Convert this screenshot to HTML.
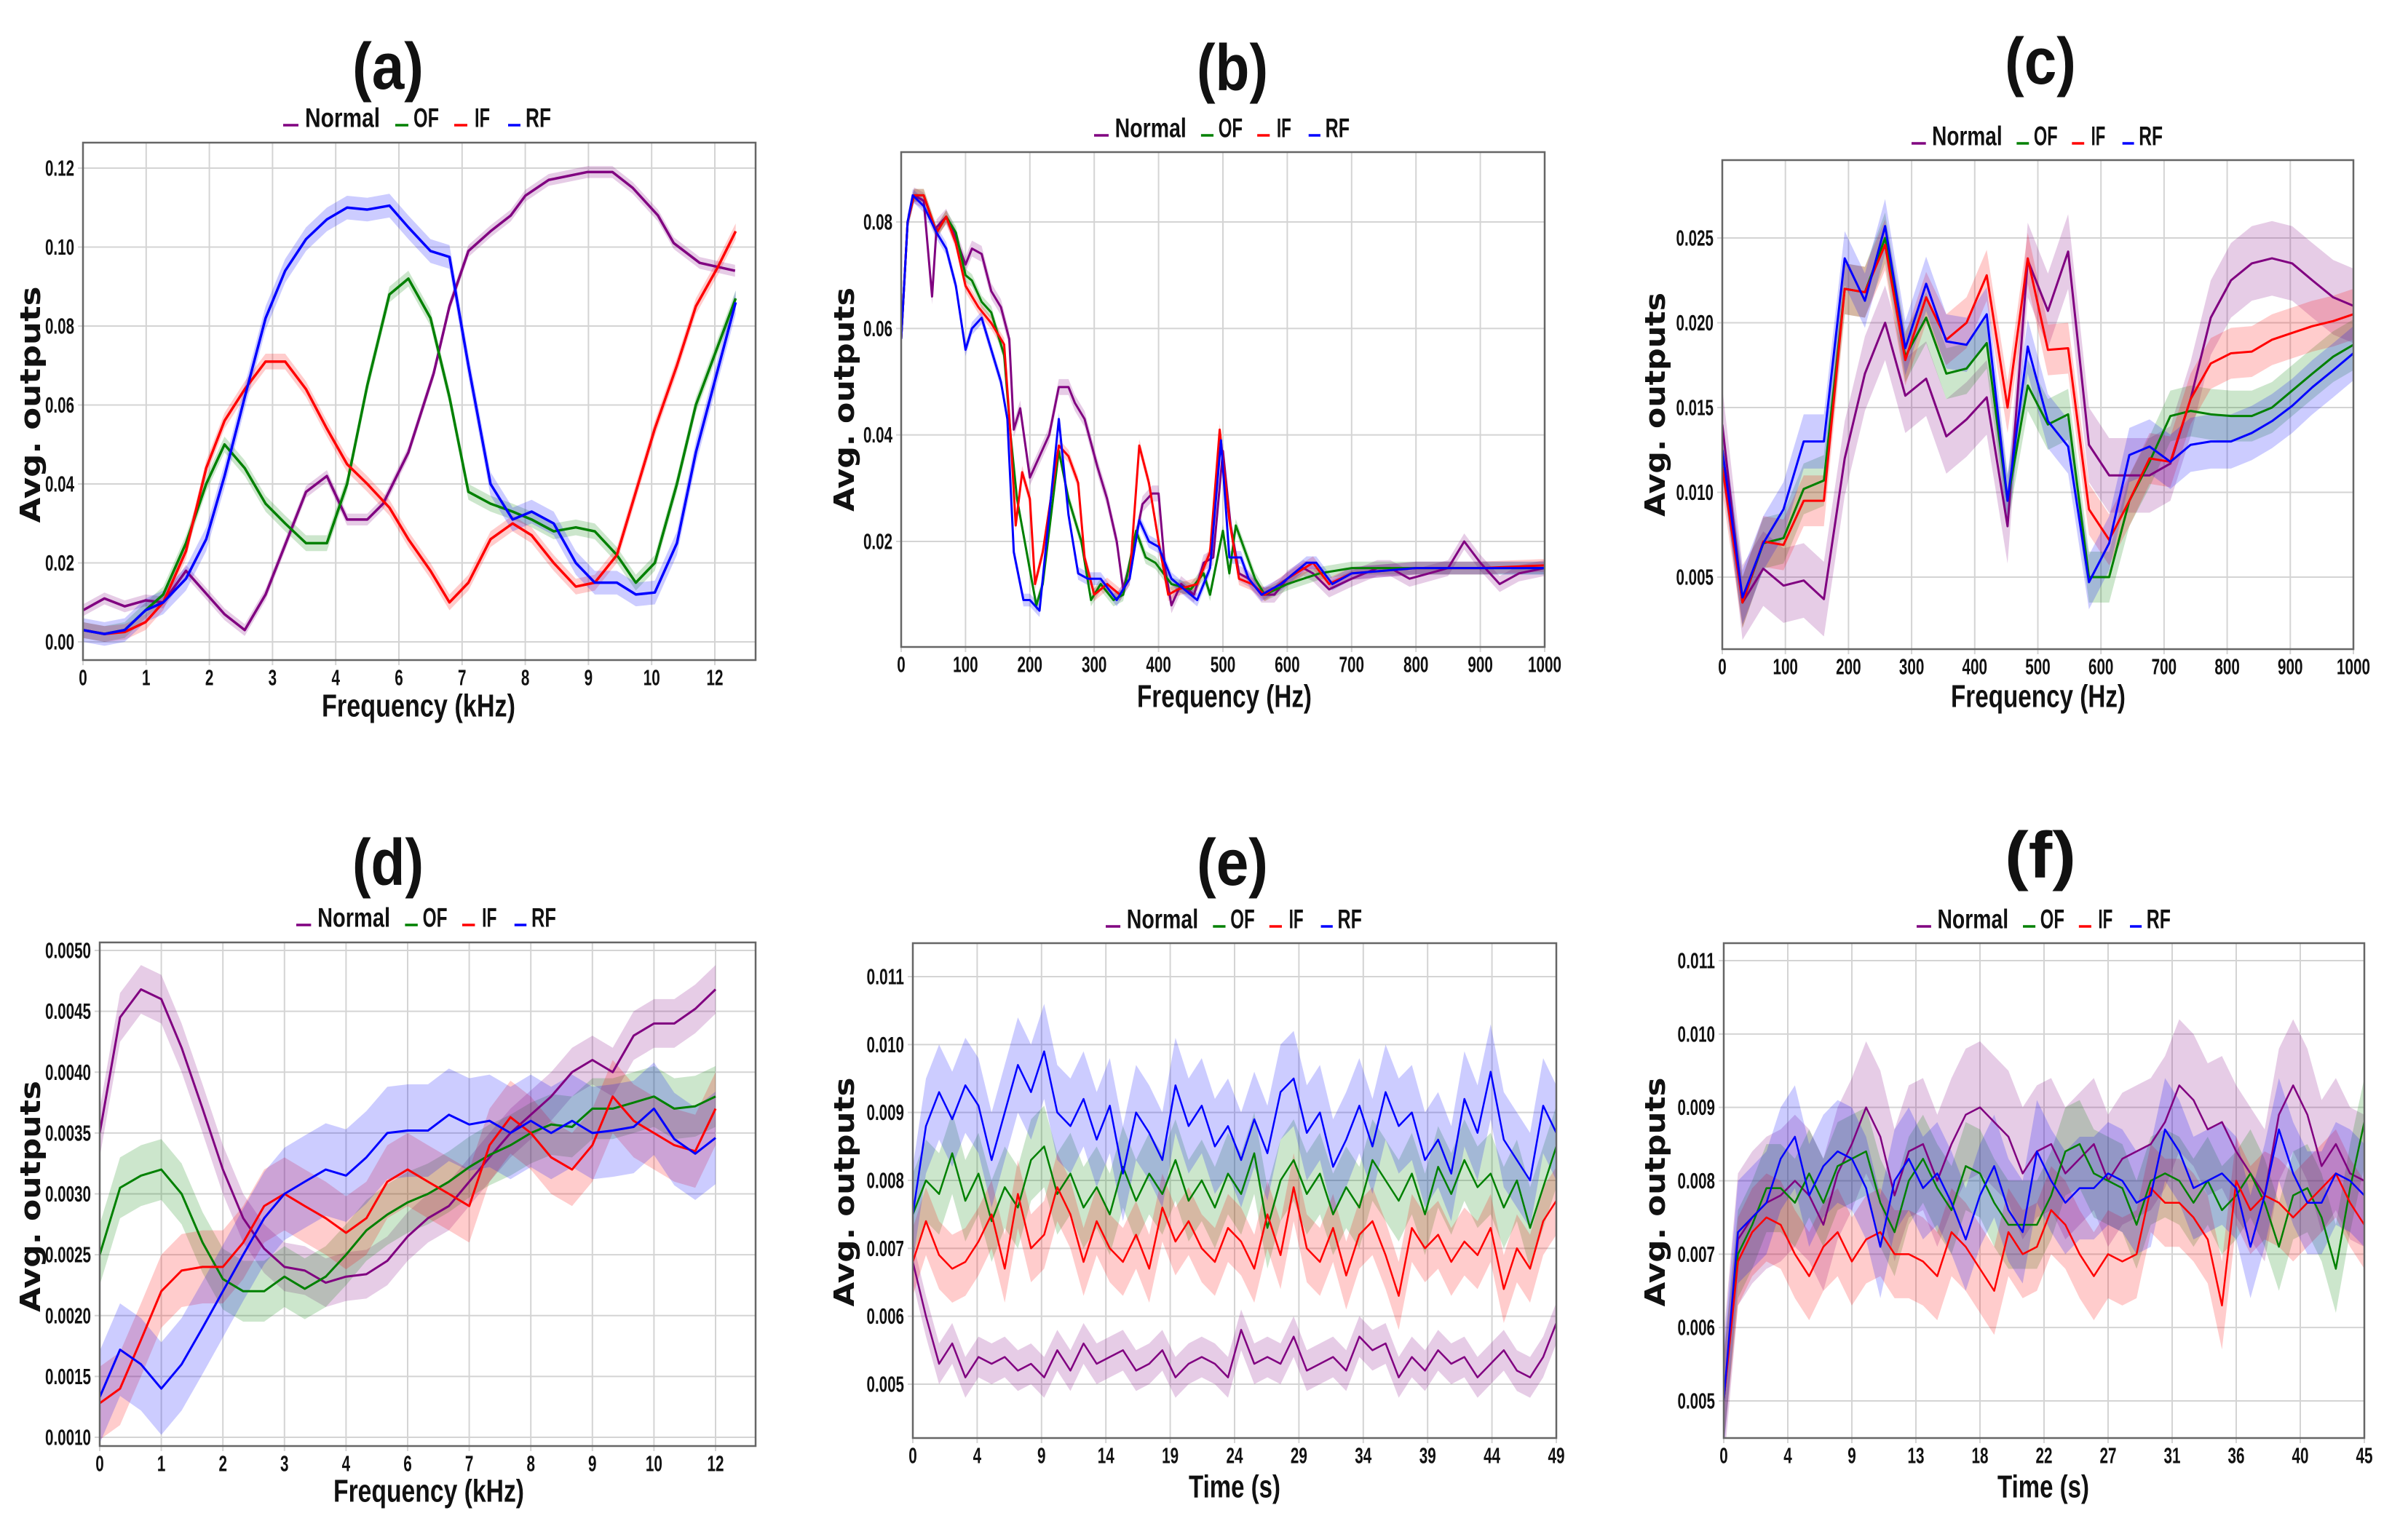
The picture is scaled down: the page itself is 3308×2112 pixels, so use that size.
<!DOCTYPE html>
<html><head><meta charset="utf-8"><style>
html,body{margin:0;padding:0;background:#fff;}
svg{display:block;}
text{font-family:"Liberation Sans Narrow","Liberation Sans",sans-serif;font-weight:bold;fill:#111;}
.yl{font-family:"DejaVu Sans","Liberation Sans",sans-serif;}
</style></head><body>
<svg id="fig" width="3308" height="2112" xmlns="http://www.w3.org/2000/svg"></svg>
<script>
// ---------- DATA ----------
const seriesNames = ['Normal','OF','IF','RF'];
const seriesColors = ['#800080','#008000','#ff0000','#0000ff'];

// (a) x in tick-index units; tick labels kHz
const aTickLabels = ['0','1','2','3','4','6','7','8','9','10','12'];
const aNormalX = [0,0.34,0.66,0.99,1.27,1.63,2.24,2.56,2.89,3.53,3.86,4.18,4.5,4.75,5.15,5.55,5.8,6.1,6.45,6.77,7.0,7.37,7.98,8.38,8.7,9.1,9.35,9.76,10.32];
const aNormalY = [0.008,0.011,0.009,0.0105,0.010,0.018,0.007,0.003,0.012,0.038,0.042,0.031,0.031,0.035,0.048,0.068,0.085,0.099,0.104,0.108,0.113,0.117,0.119,0.119,0.115,0.108,0.101,0.096,0.094];
const aOFX = [0,0.34,0.66,0.99,1.27,1.63,1.95,2.24,2.56,2.89,3.2,3.53,3.86,4.18,4.5,4.85,5.15,5.5,5.8,6.1,6.45,6.8,7.1,7.45,7.8,8.1,8.45,8.75,9.05,9.4,9.7,10.33];
const aOFY = [0.003,0.002,0.003,0.008,0.012,0.025,0.040,0.050,0.044,0.035,0.030,0.025,0.025,0.040,0.065,0.088,0.092,0.082,0.062,0.038,0.035,0.033,0.031,0.028,0.029,0.028,0.022,0.015,0.020,0.040,0.060,0.087];
const aIFX = [0,0.34,0.66,0.99,1.27,1.63,1.95,2.24,2.56,2.89,3.2,3.53,3.86,4.18,4.5,4.85,5.15,5.5,5.8,6.1,6.45,6.8,7.1,7.45,7.8,8.1,8.45,8.75,9.05,9.4,9.7,10.05,10.33];
const aIFY = [0.003,0.002,0.0025,0.005,0.010,0.023,0.044,0.056,0.064,0.071,0.071,0.064,0.054,0.045,0.040,0.034,0.026,0.018,0.010,0.015,0.026,0.030,0.027,0.020,0.014,0.015,0.022,0.038,0.054,0.070,0.085,0.095,0.104];
const aRFX = [0,0.34,0.66,0.99,1.27,1.63,1.95,2.24,2.56,2.89,3.2,3.53,3.86,4.18,4.5,4.85,5.15,5.5,5.8,6.1,6.45,6.8,7.1,7.45,7.8,8.1,8.45,8.75,9.05,9.4,9.7,10.33];
const aRFY = [0.003,0.002,0.003,0.008,0.010,0.016,0.026,0.042,0.062,0.082,0.094,0.102,0.107,0.110,0.1095,0.1105,0.105,0.099,0.0975,0.070,0.040,0.031,0.033,0.030,0.020,0.015,0.015,0.012,0.0125,0.025,0.048,0.086];
const aBands = [0.0015,0.002,0.002,0.003];

// (b) x in Hz
const bNormalX = [0,10,20,35,48,55,70,85,100,110,125,140,155,168,175,185,200,215,230,245,260,270,285,305,320,335,345,360,375,390,400,410,420,435,455,470,485,500,512,525,540,560,580,600,625,640,665,700,740,760,790,820,850,875,900,930,960,1000];
const bNormalY = [0.058,0.080,0.085,0.084,0.066,0.079,0.081,0.077,0.072,0.075,0.074,0.067,0.064,0.058,0.041,0.045,0.032,0.036,0.040,0.049,0.049,0.046,0.043,0.034,0.028,0.020,0.011,0.018,0.027,0.029,0.029,0.015,0.008,0.012,0.010,0.016,0.017,0.037,0.023,0.014,0.013,0.010,0.010,0.013,0.015,0.014,0.011,0.013,0.015,0.015,0.013,0.014,0.015,0.020,0.016,0.012,0.014,0.015];
const bOFX = [0,10,20,35,55,70,85,100,110,125,140,160,170,180,195,210,220,245,260,280,295,310,330,345,365,380,395,420,450,470,480,500,510,520,535,550,565,600,650,700,800,900,1000];
const bOFY = [0.058,0.080,0.085,0.085,0.078,0.081,0.078,0.070,0.069,0.065,0.063,0.055,0.040,0.028,0.018,0.008,0.012,0.037,0.028,0.020,0.009,0.012,0.009,0.010,0.022,0.017,0.016,0.012,0.011,0.014,0.010,0.022,0.014,0.023,0.018,0.013,0.010,0.012,0.014,0.015,0.015,0.015,0.015];
const bIFX = [0,10,20,35,55,70,85,100,120,140,160,170,178,188,200,208,220,245,260,275,285,300,320,340,355,370,385,400,415,430,460,480,495,510,525,545,565,600,640,665,700,800,900,1000];
const bIFY = [0.058,0.080,0.085,0.085,0.078,0.081,0.076,0.068,0.064,0.061,0.057,0.040,0.023,0.033,0.028,0.012,0.018,0.038,0.036,0.031,0.017,0.010,0.012,0.010,0.013,0.038,0.031,0.020,0.010,0.011,0.012,0.018,0.041,0.024,0.013,0.012,0.010,0.013,0.016,0.012,0.014,0.015,0.015,0.0155];
const bRFX = [0,10,18,35,55,70,85,100,110,125,140,155,165,175,190,200,215,230,245,260,275,290,310,335,355,370,385,400,420,440,460,480,497,510,528,540,560,590,630,645,670,700,800,900,1000];
const bRFY = [0.058,0.080,0.085,0.083,0.078,0.075,0.068,0.056,0.060,0.062,0.056,0.050,0.043,0.018,0.009,0.009,0.007,0.025,0.043,0.025,0.014,0.013,0.013,0.009,0.013,0.024,0.020,0.019,0.013,0.011,0.009,0.015,0.039,0.017,0.017,0.013,0.010,0.012,0.016,0.016,0.012,0.014,0.015,0.015,0.015];
const bBands = [0.0015,0.0012,0.0012,0.0012];

// (c) x in Hz
const cX = [0,32,65,97,129,161,194,226,258,290,323,355,387,419,452,484,516,548,581,613,645,677,710,742,774,806,839,871,903,935,968,1000];
const cNormal = [0.014,0.0035,0.0055,0.0045,0.0048,0.0037,0.012,0.017,0.020,0.0157,0.0167,0.0133,0.0143,0.0156,0.008,0.0237,0.0207,0.0242,0.0128,0.011,0.011,0.011,0.0117,0.0155,0.0203,0.0225,0.0235,0.0238,0.0235,0.0225,0.0215,0.021];
const cOF = [0.0125,0.0035,0.007,0.0073,0.0102,0.0107,0.022,0.0218,0.025,0.018,0.0203,0.017,0.0173,0.0188,0.0095,0.0163,0.014,0.0146,0.005,0.005,0.0095,0.0118,0.0145,0.0148,0.0146,0.0145,0.0145,0.0150,0.0160,0.0170,0.0180,0.0187];
const cIF = [0.0115,0.0035,0.0071,0.0069,0.0095,0.0095,0.022,0.0218,0.0246,0.0178,0.0215,0.019,0.020,0.0228,0.015,0.0238,0.0184,0.0185,0.009,0.0072,0.0095,0.012,0.0118,0.0155,0.0176,0.0182,0.0183,0.0190,0.0194,0.0198,0.0201,0.0205];
const cRF = [0.0125,0.0038,0.007,0.009,0.013,0.013,0.0238,0.0213,0.0257,0.0185,0.0223,0.0189,0.0187,0.0205,0.0095,0.0186,0.0142,0.0127,0.0047,0.007,0.0122,0.0127,0.0118,0.0128,0.013,0.013,0.0135,0.0142,0.0151,0.0162,0.0172,0.0182];
const cBands = [0.0022,0.0015,0.0015,0.0016];

// (d) x in tick-index units
const dTickLabels = ['0','1','2','3','4','6','7','8','9','10','12'];
const dX = [0,0.33,0.67,1,1.33,1.67,2,2.33,2.67,3,3.33,3.67,4,4.33,4.67,5,5.33,5.67,6,6.33,6.67,7,7.33,7.67,8,8.33,8.67,9,9.33,9.67,10];
const dNormal = [0.0035,0.00445,0.00468,0.0046,0.0042,0.0037,0.0032,0.0028,0.00255,0.0024,0.00237,0.00227,0.00232,0.00234,0.00245,0.00265,0.0028,0.0029,0.0031,0.0033,0.0035,0.00365,0.0038,0.0040,0.0041,0.0040,0.0043,0.0044,0.0044,0.00452,0.00468];
const dOF = [0.0025,0.00305,0.00315,0.0032,0.0030,0.0026,0.0023,0.0022,0.0022,0.00232,0.00222,0.00232,0.0025,0.0027,0.00283,0.00293,0.0030,0.0031,0.00322,0.00332,0.0034,0.0035,0.00357,0.00355,0.0037,0.0037,0.00375,0.0038,0.0037,0.00372,0.0038];
const dIF = [0.00128,0.0014,0.0018,0.0022,0.00237,0.0024,0.0024,0.0026,0.0029,0.0030,0.0029,0.0028,0.00268,0.0028,0.0031,0.0032,0.0031,0.0030,0.0029,0.0034,0.00363,0.0035,0.0033,0.0032,0.0034,0.0038,0.0036,0.0035,0.0034,0.00335,0.0037];
const dRF = [0.00133,0.00172,0.0016,0.0014,0.0016,0.0019,0.0022,0.0025,0.0028,0.0030,0.0031,0.0032,0.00315,0.0033,0.0035,0.00352,0.00352,0.00365,0.00357,0.0036,0.0035,0.0036,0.0035,0.0036,0.0035,0.00352,0.00355,0.0037,0.00345,0.00333,0.00346];
const dBands = [0.0002,0.00025,0.0003,0.00038];

// (e) time in s
const eTickLabels = ['0','4','9','14','19','24','29','34','39','44','49'];
const eT = [0,1,2,3,4,5,6,7,8,9,10,11,12,13,14,15,16,17,18,19,20,21,22,23,24,25,26,27,28,29,30,31,32,33,34,35,36,37,38,39,40,41,42,43,44,45,46,47,48,49];
const eNormal = [0.0068,0.0060,0.0053,0.0056,0.0051,0.0054,0.0053,0.0054,0.0052,0.0053,0.0051,0.0055,0.0052,0.0056,0.0053,0.0054,0.0055,0.0052,0.0053,0.0055,0.0051,0.0053,0.0054,0.0053,0.0051,0.0058,0.0053,0.0054,0.0053,0.0057,0.0052,0.0053,0.0054,0.0052,0.0057,0.0055,0.0056,0.0051,0.0054,0.0052,0.0055,0.0053,0.0054,0.0051,0.0053,0.0055,0.0052,0.0051,0.0054,0.0059];
const eOF = [0.0075,0.0080,0.0078,0.0084,0.0077,0.0081,0.0074,0.0079,0.0076,0.0083,0.0085,0.0078,0.0081,0.0076,0.0079,0.0075,0.0082,0.0077,0.0081,0.0078,0.0083,0.0077,0.0080,0.0076,0.0081,0.0078,0.0084,0.0073,0.0080,0.0083,0.0078,0.0081,0.0075,0.0079,0.0076,0.0083,0.0080,0.0077,0.0081,0.0075,0.0082,0.0078,0.0083,0.0079,0.0081,0.0076,0.0080,0.0073,0.0079,0.0085];
const eIF = [0.0068,0.0074,0.0069,0.0067,0.0068,0.0071,0.0075,0.0067,0.0078,0.0070,0.0072,0.0079,0.0075,0.0068,0.0074,0.0070,0.0068,0.0072,0.0067,0.0076,0.0071,0.0074,0.0070,0.0068,0.0073,0.0071,0.0067,0.0075,0.0069,0.0079,0.0070,0.0068,0.0073,0.0066,0.0072,0.0074,0.0069,0.0063,0.0073,0.0070,0.0072,0.0068,0.0071,0.0069,0.0073,0.0064,0.0070,0.0067,0.0074,0.0077];
const eRF = [0.0075,0.0088,0.0093,0.0089,0.0094,0.0091,0.0083,0.0090,0.0097,0.0093,0.0099,0.0090,0.0088,0.0092,0.0086,0.0091,0.0081,0.0090,0.0087,0.0083,0.0094,0.0088,0.0091,0.0085,0.0088,0.0083,0.0089,0.0084,0.0093,0.0095,0.0087,0.0090,0.0082,0.0086,0.0091,0.0085,0.0093,0.0088,0.0090,0.0083,0.0086,0.0081,0.0092,0.0087,0.0096,0.0086,0.0083,0.0080,0.0091,0.0087];
const eBands = [0.0003,0.0006,0.0005,0.0007];

// (f) time in s
const fTickLabels = ['0','4','9','13','18','22','27','31','36','40','45'];
const fT = [0,1,2,3,4,5,6,7,8,9,10,11,12,13,14,15,16,17,18,19,20,21,22,23,24,25,26,27,28,29,30,31,32,33,34,35,36,37,38,39,40,41,42,43,44,45];
const fNormal = [0.0050,0.0072,0.0075,0.0077,0.0078,0.0080,0.0078,0.0074,0.0081,0.0085,0.0090,0.0086,0.0078,0.0084,0.0085,0.0080,0.0085,0.0089,0.0090,0.0088,0.0086,0.0081,0.0084,0.0085,0.0081,0.0083,0.0085,0.0080,0.0083,0.0084,0.0085,0.0088,0.0093,0.0091,0.0087,0.0088,0.0084,0.0081,0.0078,0.0089,0.0093,0.0089,0.0082,0.0085,0.0081,0.0080];
const fOF = [0.0050,0.0070,0.0074,0.0079,0.0079,0.0077,0.0081,0.0077,0.0082,0.0083,0.0084,0.0077,0.0073,0.0080,0.0083,0.0079,0.0076,0.0082,0.0081,0.0077,0.0074,0.0074,0.0074,0.0078,0.0084,0.0085,0.0081,0.0080,0.0079,0.0074,0.0080,0.0081,0.0080,0.0077,0.0080,0.0076,0.0078,0.0081,0.0077,0.0071,0.0078,0.0079,0.0075,0.0068,0.0079,0.0088];
const fIF = [0.0050,0.0069,0.0073,0.0075,0.0074,0.0070,0.0067,0.0071,0.0073,0.0069,0.0072,0.0073,0.0070,0.0070,0.0069,0.0067,0.0073,0.0071,0.0068,0.0065,0.0073,0.0070,0.0071,0.0076,0.0074,0.0070,0.0067,0.0070,0.0069,0.0070,0.0079,0.0077,0.0077,0.0075,0.0072,0.0063,0.0080,0.0076,0.0078,0.0077,0.0075,0.0077,0.0079,0.0081,0.0077,0.0074];
const fRF = [0.0050,0.0073,0.0075,0.0077,0.0083,0.0086,0.0078,0.0082,0.0084,0.0083,0.0079,0.0071,0.0080,0.0083,0.0079,0.0081,0.0077,0.0072,0.0078,0.0082,0.0076,0.0073,0.0084,0.0080,0.0077,0.0079,0.0079,0.0081,0.0080,0.0077,0.0078,0.0087,0.0084,0.0079,0.0080,0.0081,0.0079,0.0071,0.0078,0.0087,0.0081,0.0077,0.0077,0.0081,0.0080,0.0078];
const fBands = [0.0009,0.0006,0.0006,0.0007];

// ---------- DRAW ----------
const NS='http://www.w3.org/2000/svg';
const svg=document.getElementById('fig');
function mk(tag,parent){const e=document.createElementNS(NS,tag);parent.appendChild(e);return e;}
function labelWidth(s){let w=0;for(const ch of s){w+=(ch==='.')?5.5:11.5;}return w;}

const panels=[
 {id:'a',title:'(a)',tx:533,ty:92,box:[114,196,1038,907],xc:[0,114,10,982],yc:[0,882,0.12,231],
  xticks:[0,1,2,3,4,5,6,7,8,9,10],xlabels:aTickLabels,yticks:[0,0.02,0.04,0.06,0.08,0.10,0.12],ydec:2,
  xs:[aNormalX,aOFX,aIFX,aRFX],ys:[aNormalY,aOFY,aIFY,aRFY],bands:aBands,lw:3.5,
  leg:[389,162,368],xl:'Frequency (kHz)',xlx:575,xly:970,xlw:266,ylx:42,yly:556,ylw:325},
 {id:'b',title:'(b)',tx:1693,ty:94,box:[1238,209,2122,889],xc:[0,1238,1000,2122],yc:[0.08,305,0.02,744],
  xticks:[0,100,200,300,400,500,600,700,800,900,1000],xlabels:null,yticks:[0.02,0.04,0.06,0.08],ydec:2,
  xs:[bNormalX,bOFX,bIFX,bRFX],ys:[bNormalY,bOFY,bIFY,bRFY],bands:bBands,lw:3,
  leg:[1503,176,351],xl:'Frequency (Hz)',xlx:1682,xly:957,xlw:240,ylx:1160,yly:549,ylw:308},
 {id:'c',title:'(c)',tx:2803,ty:85,box:[2366,220,3233,892],xc:[0,2366,1000,3233],yc:[0.025,327,0.005,793],
  xticks:[0,100,200,300,400,500,600,700,800,900,1000],xlabels:null,yticks:[0.005,0.010,0.015,0.020,0.025],ydec:3,
  xs:[cX,cX,cX,cX],ys:[cNormal,cOF,cIF,cRF],bands:cBands,lw:3,
  leg:[2626,187,345],xl:'Frequency (Hz)',xlx:2800,xly:957,xlw:240,ylx:2274,yly:556,ylw:308},
 {id:'d',title:'(d)',tx:533,ty:1186,box:[137,1295,1038,1987],xc:[0,137,10,983],yc:[0.001,1975,0.005,1306],
  xticks:[0,1,2,3,4,5,6,7,8,9,10],xlabels:dTickLabels,yticks:[0.001,0.0015,0.002,0.0025,0.003,0.0035,0.004,0.0045,0.005],ydec:4,
  xs:[dX,dX,dX,dX],ys:[dNormal,dOF,dIF,dRF],bands:dBands,lw:3,
  leg:[407,1261,357],xl:'Frequency (kHz)',xlx:589,xly:2049,xlw:262,ylx:42,yly:1644,ylw:318},
 {id:'e',title:'(e)',tx:1693,ty:1186,box:[1254,1296,2138,1976],xc:[0,1254,49,2138],yc:[0.011,1342,0.005,1902],
  xticks:[0,4.9,9.8,14.7,19.6,24.5,29.4,34.3,39.2,44.1,49],xlabels:eTickLabels,yticks:[0.005,0.006,0.007,0.008,0.009,0.010,0.011],ydec:3,
  xs:[eT,eT,eT,eT],ys:[eNormal,eOF,eIF,eRF],bands:eBands,lw:2.5,
  leg:[1519,1263,352],xl:'Time (s)',xlx:1696,xly:2043,xlw:126,ylx:1160,yly:1638,ylw:315},
 {id:'f',title:'(f)',tx:2803,ty:1176,box:[2368,1296,3248,1976],xc:[0,2368,45,3248],yc:[0.011,1320,0.005,1925],
  xticks:[0,4.5,9,13.5,18,22.5,27,31.5,36,40.5,45],xlabels:fTickLabels,yticks:[0.005,0.006,0.007,0.008,0.009,0.010,0.011],ydec:3,
  xs:[fT,fT,fT,fT],ys:[fNormal,fOF,fIF,fRF],bands:fBands,lw:2.5,
  leg:[2633,1263,349],xl:'Time (s)',xlx:2807,xly:2043,xlw:126,ylx:2274,yly:1638,ylw:315}
];

panels.forEach(p=>{
  const g=mk('g',svg);
  
  
  const [L,T,R,B]=p.box;
  const X=v=>p.xc[1]+(v-p.xc[0])*(p.xc[3]-p.xc[1])/(p.xc[2]-p.xc[0]);
  const Y=v=>p.yc[1]+(v-p.yc[0])*(p.yc[3]-p.yc[1])/(p.yc[2]-p.yc[0]);
  const cp=mk('clipPath',g); cp.setAttribute('id','clip'+p.id);
  const cr=mk('rect',cp); cr.setAttribute('x',L);cr.setAttribute('y',T);cr.setAttribute('width',R-L);cr.setAttribute('height',B-T);
  // title
  const t=mk('text',g);
  
  
  t.setAttribute('x',p.tx);t.setAttribute('y',p.ty);t.setAttribute('text-anchor','middle');t.setAttribute('dominant-baseline','central');
  t.setAttribute('font-size','90');t.setAttribute('textLength','98');t.setAttribute('lengthAdjust','spacingAndGlyphs');
  t.textContent=p.title;
  // grid
  p.xticks.forEach((v,i)=>{
    const ln=mk('line',g);
    
    
    ln.setAttribute('x1',X(v));ln.setAttribute('x2',X(v));ln.setAttribute('y1',T);ln.setAttribute('y2',B+7);
    ln.setAttribute('stroke','#d4d4d4');ln.setAttribute('stroke-width','2');
    const tl=mk('text',g);
    
    
    const s=p.xlabels?p.xlabels[i]:String(v);
    tl.setAttribute('x',X(v));tl.setAttribute('y',B+24);tl.setAttribute('text-anchor','middle');tl.setAttribute('dominant-baseline','central');
    tl.setAttribute('font-size','31');tl.setAttribute('textLength',labelWidth(s));tl.setAttribute('lengthAdjust','spacingAndGlyphs');
    tl.textContent=s;
  });
  p.yticks.forEach(v=>{
    const ln=mk('line',g);
    
    
    ln.setAttribute('x1',L-7);ln.setAttribute('x2',R);ln.setAttribute('y1',Y(v));ln.setAttribute('y2',Y(v));
    ln.setAttribute('stroke','#d4d4d4');ln.setAttribute('stroke-width','2');
    const tl=mk('text',g);
    
    
    const s=v.toFixed(p.ydec);
    tl.setAttribute('x',L-12);tl.setAttribute('y',Y(v));tl.setAttribute('text-anchor','end');tl.setAttribute('dominant-baseline','central');
    tl.setAttribute('font-size','31');tl.setAttribute('textLength',labelWidth(s));tl.setAttribute('lengthAdjust','spacingAndGlyphs');
    tl.textContent=s;
  });
  // series
  const sg=mk('g',g); sg.setAttribute('clip-path','url(#clip'+p.id+')');
  for(let s=0;s<4;s++){
    const xs=p.xs[s], ys=p.ys[s], bw=p.bands[s];
    let up=[],lo=[];
    for(let i=0;i<xs.length;i++){up.push(X(xs[i])+','+Y(ys[i]+bw));lo.unshift(X(xs[i])+','+Y(ys[i]-bw));}
    const band=mk('polygon',sg);
    
    
    band.setAttribute('points',up.concat(lo).join(' '));
    band.setAttribute('fill',seriesColors[s]);band.setAttribute('fill-opacity','0.2');band.setAttribute('stroke','none');
  }
  for(let s=0;s<4;s++){
    const xs=p.xs[s], ys=p.ys[s];
    const pts=xs.map((x,i)=>X(x)+','+Y(ys[i])).join(' ');
    const pl=mk('polyline',sg);
    
    
    pl.setAttribute('points',pts);pl.setAttribute('fill','none');pl.setAttribute('stroke',seriesColors[s]);
    pl.setAttribute('stroke-width',p.lw);pl.setAttribute('stroke-linejoin','round');
  }
  // frame
  const fr=mk('rect',g);
  
  
  fr.setAttribute('x',L);fr.setAttribute('y',T);fr.setAttribute('width',R-L);fr.setAttribute('height',B-T);
  fr.setAttribute('fill','none');fr.setAttribute('stroke','#666');fr.setAttribute('stroke-width','2.5');
  // legend
  const [lx,ly,lw]=p.leg; const k=lw/368;
  const lg=mk('g',g);
  
  
  const mOff=[[0,21],[154,172],[235,253],[309,326]];
  const tOff=[[30,103],[179,35],[263,21],[333,35]];
  for(let s=0;s<4;s++){
    const it=mk('g',lg);
    
    
    const m=mk('line',it);
    m.setAttribute('x1',lx+mOff[s][0]*k);m.setAttribute('x2',lx+mOff[s][1]*k);m.setAttribute('y1',ly+10);m.setAttribute('y2',ly+10);
    m.setAttribute('stroke',seriesColors[s]);m.setAttribute('stroke-width','3.5');
    const tx=mk('text',it);
    tx.setAttribute('x',lx+tOff[s][0]*k);tx.setAttribute('y',ly);tx.setAttribute('dominant-baseline','central');
    tx.setAttribute('font-size','37');tx.setAttribute('textLength',tOff[s][1]*k);tx.setAttribute('lengthAdjust','spacingAndGlyphs');
    tx.textContent=seriesNames[s];
  }
  // axis labels
  const xl=mk('text',g);
  
  
  xl.setAttribute('x',p.xlx);xl.setAttribute('y',p.xly);xl.setAttribute('text-anchor','middle');xl.setAttribute('dominant-baseline','central');
  xl.setAttribute('font-size','44');xl.setAttribute('textLength',p.xlw);xl.setAttribute('lengthAdjust','spacingAndGlyphs');
  xl.textContent=p.xl;
  const yl=mk('text',g);
  
  
  yl.setAttribute('class','yl');
  yl.setAttribute('x',0);yl.setAttribute('y',0);yl.setAttribute('text-anchor','middle');yl.setAttribute('dominant-baseline','central');
  yl.setAttribute('font-size','38');yl.setAttribute('textLength',p.ylw);yl.setAttribute('lengthAdjust','spacingAndGlyphs');
  yl.setAttribute('transform','translate('+p.ylx+','+p.yly+') rotate(-90)');
  yl.textContent='Avg. outputs';
});
</script>
</body></html>
